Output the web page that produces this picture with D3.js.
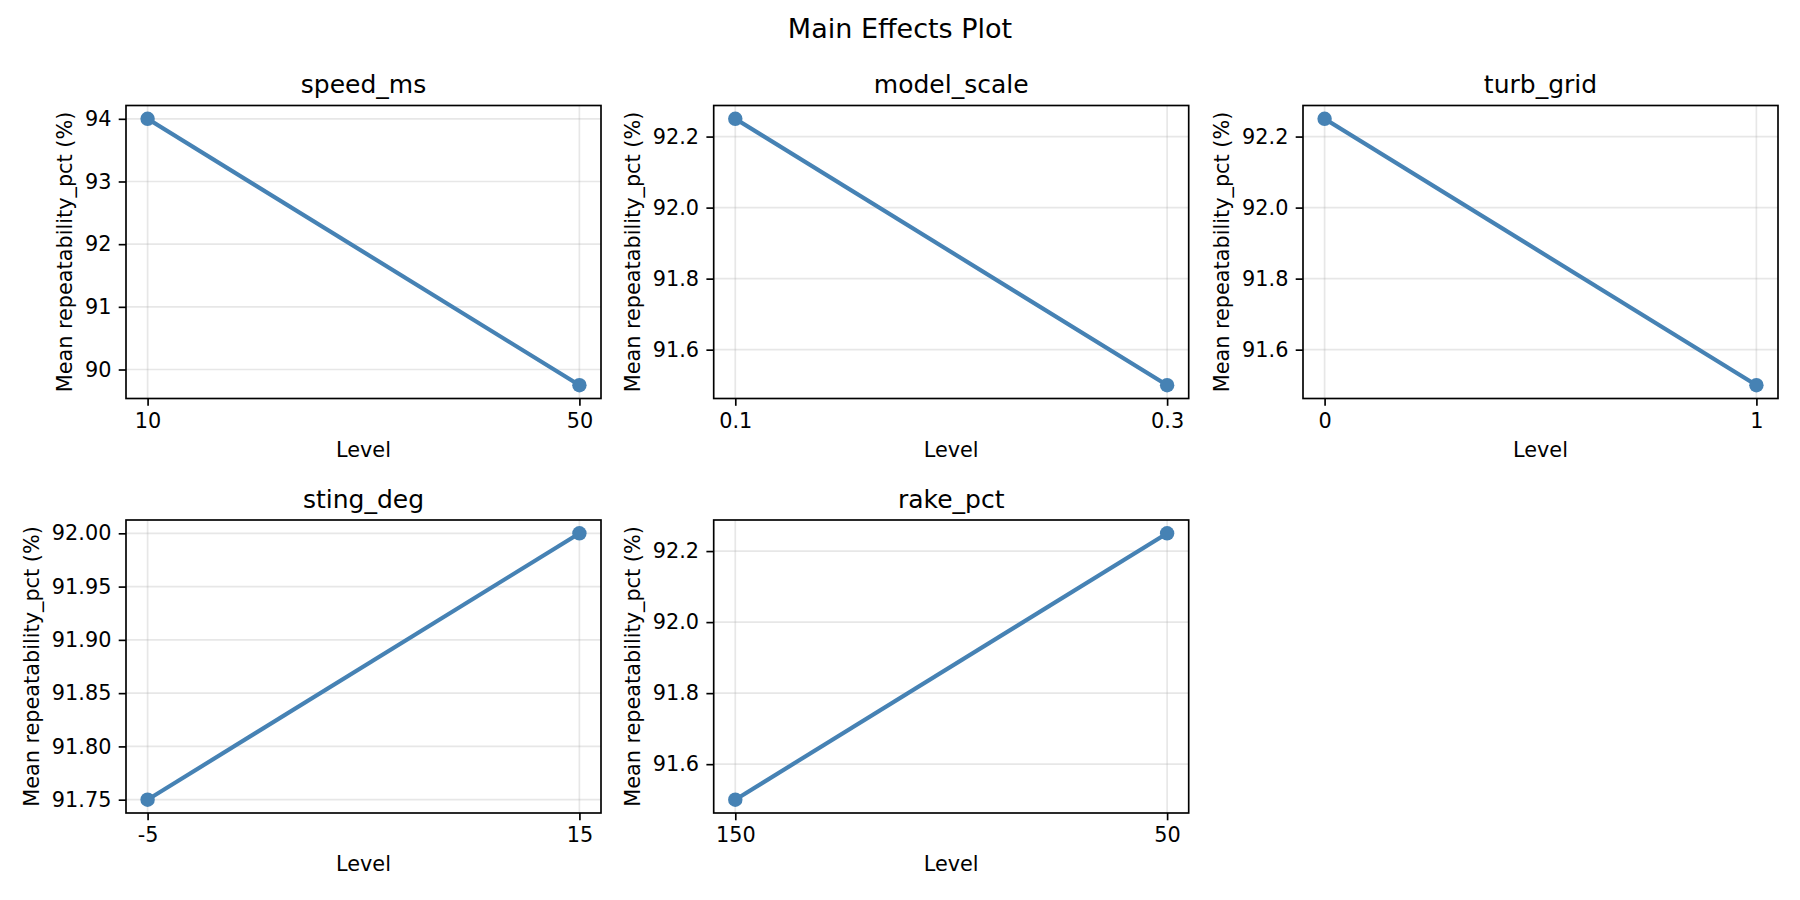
<!DOCTYPE html>
<html>
<head>
<meta charset="utf-8">
<script src="https://cdn.jsdelivr.net/npm/d3@7"></script>
<style>
  html, body { margin: 0; padding: 0; background: #fff; }
  svg { display: block; font-family: "DejaVu Sans", sans-serif; }
</style>
</head>
<body>
<svg id="chart" width="1800" height="900"></svg>
<script>
// ---- data ----
const figureTitle = "Main Effects Plot";
const factors = ["speed_ms", "model_scale", "turb_grid", "sting_deg", "rake_pct"];
const levels = [
  ["10", "50"],
  ["0.1", "0.3"],
  ["0", "1"],
  ["-5", "15"],
  ["150", "50"]
];
const means = [
  [94.0, 89.75],
  [92.25, 91.5],
  [92.25, 91.5],
  [91.75, 92.0],
  [91.5, 92.25]
];
const yTicks = [
  [90, 91, 92, 93, 94],
  [91.6, 91.8, 92.0, 92.2],
  [91.6, 91.8, 92.0, 92.2],
  [91.75, 91.80, 91.85, 91.90, 91.95, 92.00],
  [91.6, 91.8, 92.0, 92.2]
];
const yTickFormats = [".0f", ".1f", ".1f", ".2f", ".1f"];
const xLabel = "Level";
const yLabel = "Mean repeatability_pct (%)";

// ---- layout ----
const svg = d3.select("#chart");
const colLeft = [126, 713.7, 1303];
const rowTop = [105.5, 520];
const pw = 475, ph = 293;
const color = "#4682b4";
const tickLen = 7.3, tickPad = 7.3;
const fs = 20.8;

svg.append("text")
  .attr("x", 900).attr("y", 38)
  .attr("text-anchor", "middle")
  .attr("font-size", 27)
  .attr("fill", "#000")
  .text(figureTitle);

factors.forEach((name, i) => {
  const col = i % 3, row = Math.floor(i / 3);
  const g = svg.append("g").attr("transform", `translate(${colLeft[col]},${rowTop[row]})`);

  const idx = levels[i].map((_, k) => k);
  const x = d3.scaleLinear().domain([-0.05, 1.05]).range([0, pw]);
  const ext = d3.extent(means[i]);
  const r = ext[1] - ext[0];
  const y = d3.scaleLinear().domain([ext[0] - 0.05 * r, ext[1] + 0.05 * r]).range([ph, 0]);

  // grid
  const grid = g.append("g");
  grid.selectAll("line.gy").data(yTicks[i]).join("line")
    .attr("x1", 0).attr("x2", pw)
    .attr("y1", d => y(d)).attr("y2", d => y(d))
    .attr("stroke", "#b0b0b0").attr("stroke-opacity", 0.3).attr("stroke-width", 1.67);
  grid.selectAll("line.gx").data(idx).join("line")
    .attr("y1", 0).attr("y2", ph)
    .attr("x1", d => x(d)).attr("x2", d => x(d))
    .attr("stroke", "#b0b0b0").attr("stroke-opacity", 0.3).attr("stroke-width", 1.67);

  // line + markers
  const pts = idx.map(k => [k, means[i][k]]);
  g.append("path")
    .attr("d", d3.line().x(d => x(d[0])).y(d => y(d[1]))(pts))
    .attr("fill", "none").attr("stroke", color).attr("stroke-width", 4.17)
    .attr("stroke-linecap", "square");
  g.selectAll("circle").data(pts).join("circle")
    .attr("cx", d => x(d[0])).attr("cy", d => y(d[1]))
    .attr("r", 7.2).attr("fill", color);

  // axes
  const xAxis = g.append("g").attr("transform", `translate(0,${ph})`)
    .call(d3.axisBottom(x).tickValues(idx).tickFormat(k => levels[i][k])
      .tickSize(tickLen).tickPadding(tickPad).tickSizeOuter(0));
  const yAxis = g.append("g")
    .call(d3.axisLeft(y).tickValues(yTicks[i]).tickFormat(d3.format(yTickFormats[i]))
      .tickSize(tickLen).tickPadding(tickPad).tickSizeOuter(0));
  [xAxis, yAxis].forEach(a => {
    a.select(".domain").remove();
    a.selectAll(".tick line").attr("stroke", "#000").attr("stroke-width", 1.67);
    a.selectAll(".tick text").attr("fill", "#000").attr("font-size", fs)
      .attr("font-family", "DejaVu Sans, sans-serif");
  });

  // frame
  g.append("rect").attr("x", 0).attr("y", 0).attr("width", pw).attr("height", ph)
    .attr("fill", "none").attr("stroke", "#000").attr("stroke-width", 1.67);

  // title
  g.append("text").attr("x", pw / 2).attr("y", -12.5)
    .attr("text-anchor", "middle").attr("font-size", 25).attr("fill", "#000")
    .text(name);

  // x label
  g.append("text").attr("x", pw / 2).attr("y", ph + 58)
    .attr("text-anchor", "middle").attr("font-size", fs).attr("fill", "#000")
    .text(xLabel);

  // y label
  let minX = 0;
  yAxis.selectAll(".tick text").each(function () {
    const b = this.getBBox();
    minX = Math.min(minX, b.x);
  });
  const lx = minX - 8.3 - 4.9;
  g.append("text")
    .attr("transform", `translate(${lx},${ph / 2}) rotate(-90)`)
    .attr("text-anchor", "middle").attr("font-size", fs).attr("fill", "#000")
    .text(yLabel);
});
</script>
</body>
</html>
